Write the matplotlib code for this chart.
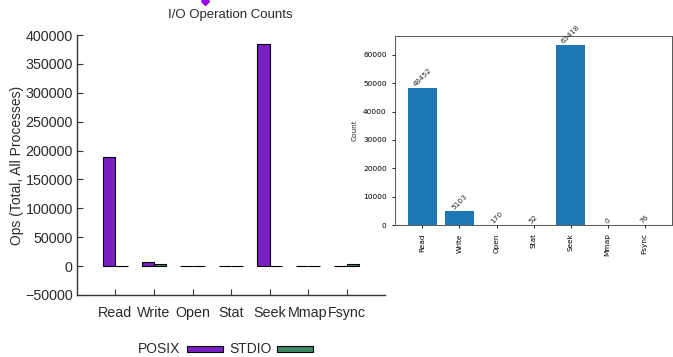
import numpy as np
import matplotlib
matplotlib.use("Agg")
import matplotlib.pyplot as plt
from matplotlib.lines import Line2D
from matplotlib.patches import Rectangle

plt.rcParams["font.family"] = ["Liberation Sans", "DejaVu Sans"]

# datos
ops = ["Read", "Write", "Open", "Stat", "Seek", "Mmap", "Fsync"]
posix_total = [188500, 7500, 800, 700, 385000, 500, 600]
stdio_total = [500, 3000, 400, 300, 500, 300, 3000]
counts = [48452, 5103, 170, 52, 63418, 0, 76]
left_yticks = [-50000, 0, 50000, 100000, 150000, 200000, 250000, 300000, 350000, 400000]

PURPLE = "#7b1fc4"
GREEN = "#3e8c6c"
BLUE = "#1f77b4"
TXT = "#2a2a2a"

fig = plt.figure(figsize=(6.73, 3.57), dpi=100, facecolor="white")

# ---- panel izquierdo, estilo gnuplot ----
ax1 = fig.add_axes([0.1144, 0.1737, 0.4577, 0.728])
x = np.arange(len(ops))
w = 0.32
ax1.bar(x - w / 2, posix_total, w, color=PURPLE, edgecolor="black", linewidth=0.8)
ax1.bar(x + w / 2, stdio_total, w, color=GREEN, edgecolor="black", linewidth=0.8)
ax1.set_xlim(-1, 7)
ax1.set_ylim(-50000, 400000)
ax1.set_yticks(left_yticks)
ax1.set_yticklabels([str(v).replace("-", "\u2212") for v in left_yticks])
ax1.set_xticks(x)
ax1.set_xticklabels(ops)
for s in ("top", "right"):
    ax1.spines[s].set_visible(False)
for s in ("left", "bottom"):
    ax1.spines[s].set_color("#333333")
    ax1.spines[s].set_linewidth(1.0)
ax1.tick_params(direction="in", length=4, width=0.8, colors="#333333",
                labelsize=10.3, labelcolor=TXT)
ax1.tick_params(axis="y", pad=3)
ax1.tick_params(axis="x", pad=8)
ax1.set_ylabel("Ops (Total, All Processes)", fontsize=10, color=TXT, labelpad=1)
fig.text(0.342, 0.957, "I/O Operation Counts", ha="center", va="center",
         fontsize=9.5, color=TXT)

# marca violeta cortada arriba
fig.add_artist(Line2D([0.304], [0.997], marker="D", markersize=4, color="#9900ee",
                      transform=fig.transFigure))

# leyenda abajo
fig.text(0.268, 0.022, "POSIX", ha="right", va="center", fontsize=10, color=TXT)
fig.add_artist(Rectangle((0.278, 0.013), 0.053, 0.018, transform=fig.transFigure,
                         facecolor=PURPLE, edgecolor="black", linewidth=0.8))
fig.text(0.404, 0.022, "STDIO", ha="right", va="center", fontsize=10, color=TXT)
fig.add_artist(Rectangle((0.412, 0.013), 0.053, 0.018, transform=fig.transFigure,
                         facecolor=GREEN, edgecolor="black", linewidth=0.8))

# ---- panel derecho, matplotlib por defecto ----
ax2 = fig.add_axes([0.587, 0.3697, 0.4116, 0.529])
bars = ax2.bar(ops, counts, color=BLUE)
for b, v in zip(bars, counts):
    ax2.text(b.get_x() + b.get_width() / 2, v, str(v), ha="center", va="bottom",
             rotation=45, fontsize=5.3, color=TXT, family="DejaVu Sans")
ax2.set_ylabel("Count", fontsize=5.3, family="DejaVu Sans", color=TXT)
ax2.tick_params(labelsize=5.3, length=2.5, width=0.6)
for lab in ax2.get_xticklabels():
    lab.set_rotation(90)
    lab.set_family("DejaVu Sans")
for lab in ax2.get_yticklabels():
    lab.set_family("DejaVu Sans")
for s in ax2.spines.values():
    s.set_linewidth(0.7)
    s.set_color("#555555")

fig.savefig("out.png", dpi=100, facecolor="white")
